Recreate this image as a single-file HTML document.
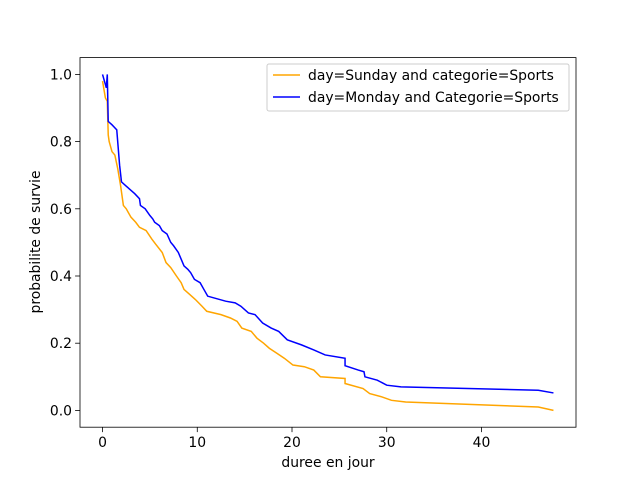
<!DOCTYPE html>
<html><head><meta charset="utf-8"><style>body{margin:0;background:#fff}svg{display:block;font-family:"DejaVu Sans","Liberation Sans",sans-serif}</style></head>
<body>
<svg id="chart" width="640" height="480" viewBox="0 0 640 480"></svg>
<script>
const sundayX=[0,0.3,0.5,0.6,0.7,1,1.3,1.6,1.9,2.2,2.5,3,3.5,3.9,4.6,5.2,5.6,6.3,6.7,7.2,7.8,8.3,8.6,9.2,9.8,10.5,11,12.5,13.5,14.2,14.7,15.7,16.3,17,17.6,18.4,19.2,20.1,21.3,22.3,23,25.6,25.6,27.5,28.2,29.5,30.5,32,46,47.6];
const sundayY=[0.98,0.93,0.92,0.82,0.8,0.77,0.76,0.72,0.67,0.61,0.6,0.575,0.56,0.545,0.535,0.51,0.495,0.47,0.44,0.425,0.4,0.38,0.36,0.345,0.33,0.31,0.295,0.285,0.275,0.265,0.245,0.235,0.215,0.2,0.185,0.17,0.155,0.135,0.13,0.12,0.1,0.095,0.08,0.065,0.05,0.04,0.03,0.025,0.01,0.0];
const mondayX=[0,0.2,0.4,0.5,0.6,1,1.5,1.6,1.8,2,2.4,2.8,3.4,3.9,4,4.5,5,5.3,5.5,6,6.3,6.8,7.2,7.5,8,8.3,8.6,9,9.3,9.7,10.3,10.7,11.1,13,14,14.6,15.4,16.1,16.9,17.8,18.6,19.5,21,22.3,23.5,25.6,25.6,27,27.6,27.7,29,30,31.5,46,47.6];
const mondayY=[1,0.98,0.96,1.0,0.86,0.85,0.835,0.8,0.73,0.68,0.67,0.66,0.645,0.63,0.61,0.6,0.58,0.57,0.56,0.55,0.535,0.525,0.5,0.49,0.47,0.45,0.43,0.42,0.41,0.39,0.38,0.36,0.34,0.325,0.32,0.31,0.29,0.285,0.26,0.245,0.235,0.21,0.195,0.18,0.165,0.155,0.133,0.12,0.115,0.1,0.09,0.075,0.07,0.06,0.052];
const xTicks=[0,10,20,30,40];
const yTicks=[0.0,0.2,0.4,0.6,0.8,1.0];
const L=80,R=576,T=57.6,B=427.2,x0=-2.38,x1=49.98,y0=-0.05,y1=1.05;
const sx=v=>L+(v-x0)/(x1-x0)*(R-L), sy=v=>B-(v-y0)/(y1-y0)*(B-T);
const svg=document.getElementById('chart');const NS='http://www.w3.org/2000/svg';
function mk(t,a,txt){const e=document.createElementNS(NS,t);for(const k in a)e.setAttribute(k,a[k]);if(txt!==undefined)e.textContent=txt;svg.appendChild(e);return e;}
function line(xs,ys,c,n){const p=mk('polyline',{points:xs.map((v,i)=>sx(v)+','+sy(ys[i])).join(' '),fill:'none',stroke:c,'stroke-width':1.5});

}
line(sundayX,sundayY,'#ffa500','sunday-sports-line');
line(mondayX,mondayY,'#0000ff','monday-sports-line');
const fr=mk('rect',{x:L,y:T,width:R-L,height:B-T,fill:'none',stroke:'#000','stroke-width':0.8});


xTicks.forEach(v=>{mk('line',{x1:sx(v),x2:sx(v),y1:B,y2:B+4.9,stroke:'#000','stroke-width':0.8});
const t=mk('text',{x:sx(v),y:B+20,'text-anchor':'middle','font-size':13.9},String(v));

});
yTicks.forEach(v=>{mk('line',{x1:L-4.9,x2:L,y1:sy(v),y2:sy(v),stroke:'#000','stroke-width':0.8});
const t=mk('text',{x:L-8,y:sy(v)+5,'text-anchor':'end','font-size':13.9},v.toFixed(1));

});
</script>
<svg style="position:absolute;left:0;top:0" width="640" height="480">
<text x="328" y="467" text-anchor="middle" font-size="13.9" font-family="DejaVu Sans, sans-serif">duree en jour</text>
<text transform="translate(40,242) rotate(-90)" text-anchor="middle" font-size="13.9" font-family="DejaVu Sans, sans-serif">probabilite de survie</text>
<g font-family="DejaVu Sans, sans-serif" font-size="13.9">
<rect x="267" y="64" width="302" height="47" rx="2" fill="#fff" fill-opacity="0.8" stroke="#ccc"/>
<line x1="273" x2="300" y1="75" y2="75" stroke="#ffa500" stroke-width="1.5"/>
<text x="308" y="80">day=Sunday and categorie=Sports</text>
<line x1="273" x2="300" y1="97" y2="97" stroke="#0000ff" stroke-width="1.5"/>
<text x="308" y="102">day=Monday and Categorie=Sports</text>
</g></svg>
</body></html>
